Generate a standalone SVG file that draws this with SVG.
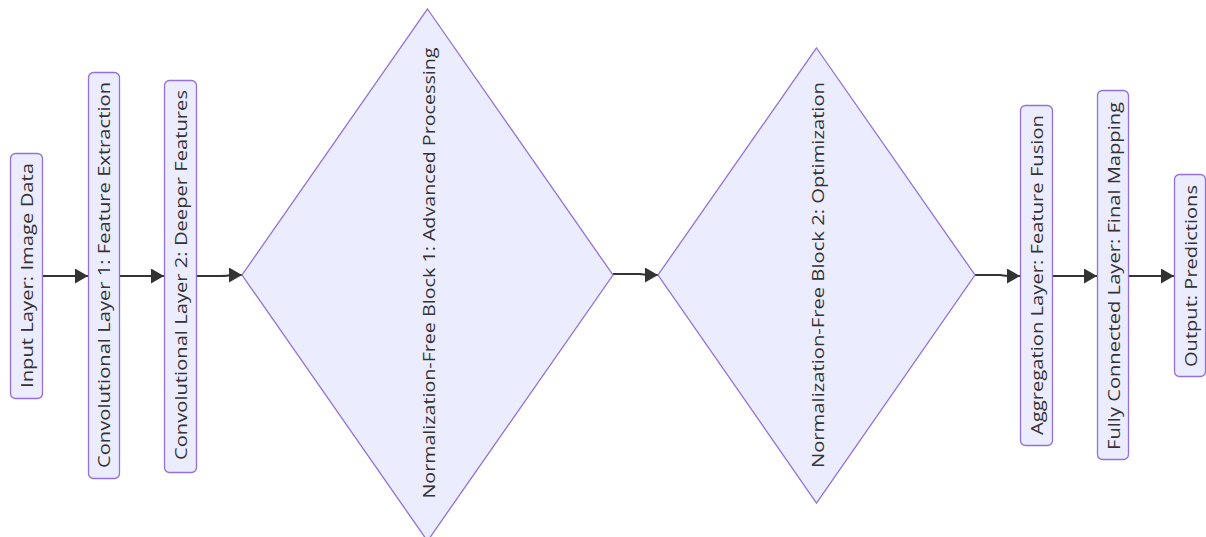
<svg xmlns="http://www.w3.org/2000/svg" width="1206" height="537" viewBox="0 0 1206 537">
  <style>
    .box { fill: #ECECFF; stroke: #9370DB; stroke-width: 1.3; }
    .lbl { fill: #333333; font-family: "Open Sans", "DejaVu Sans", sans-serif; font-size: 16px; text-anchor: middle; dominant-baseline: central; }
    .edge { fill: none; stroke: #333333; stroke-width: 2; marker-end: url(#arrow); }
  </style>
  <defs>
    <marker id="arrow" viewBox="0 0 13 15" refX="13" refY="7.5" markerUnits="userSpaceOnUse" markerWidth="13" markerHeight="15" orient="auto">
      <path d="M 0 0 L 13 7.5 L 0 15 z" fill="#333333"/>
    </marker>
  </defs>
  <rect width="1206" height="537" fill="#ffffff"/>

  <g id="connectors">
    <path class="edge" d="M 43 276 L 88 276"/>
    <path class="edge" d="M 119 276 L 164 276"/>
    <path class="edge" d="M 197 276 L 220 276 Q 228 276 230 275 L 242 275"/>
    <path class="edge" d="M 613 274 L 640 274 Q 646 275 650 275 L 658 275"/>
    <path class="edge" d="M 975 275 L 1000 275 Q 1006 276 1010 276 L 1020 276"/>
    <path class="edge" d="M 1052 276 L 1097 276"/>
    <path class="edge" d="M 1129 276 L 1174 276"/>
  </g>

  <g id="input">
    <rect class="box" x="10.5" y="153.5" width="32" height="245" rx="5"/>
    <text class="lbl" transform="translate(27 275.5) rotate(-90)" textLength="225" lengthAdjust="spacingAndGlyphs">Input Layer: Image Data</text>
  </g>

  <g id="conv1">
    <rect class="box" x="88.5" y="72.5" width="31" height="406" rx="5"/>
    <text class="lbl" transform="translate(104 275) rotate(-90)" textLength="386" lengthAdjust="spacingAndGlyphs">Convolutional Layer 1: Feature Extraction</text>
  </g>

  <g id="conv2">
    <rect class="box" x="164.5" y="80.5" width="32" height="392" rx="5"/>
    <text class="lbl" transform="translate(181 275) rotate(-90)" textLength="370" lengthAdjust="spacingAndGlyphs">Convolutional Layer 2: Deeper Features</text>
  </g>

  <g id="nfblock1">
    <polygon class="box" points="427.5,9 613,275 427.5,541 242,275"/>
    <text class="lbl" transform="translate(429 273) rotate(-90)" textLength="451" lengthAdjust="spacingAndGlyphs">Normalization-Free Block 1: Advanced Processing</text>
  </g>

  <g id="nfblock2">
    <polygon class="box" points="816.5,48 975,275 816.5,503 658,275"/>
    <text class="lbl" transform="translate(818 275) rotate(-90)" textLength="386" lengthAdjust="spacingAndGlyphs">Normalization-Free Block 2: Optimization</text>
  </g>

  <g id="aggregation">
    <rect class="box" x="1020.5" y="105.5" width="32" height="340" rx="5"/>
    <text class="lbl" transform="translate(1037 275) rotate(-90)" textLength="320" lengthAdjust="spacingAndGlyphs">Aggregation Layer: Feature Fusion</text>
  </g>

  <g id="fullyconnected">
    <rect class="box" x="1097.5" y="90.5" width="31" height="369" rx="5"/>
    <text class="lbl" transform="translate(1114 276) rotate(-90)" textLength="348" lengthAdjust="spacingAndGlyphs">Fully Connected Layer: Final Mapping</text>
  </g>

  <g id="output">
    <rect class="box" x="1174.5" y="174.5" width="31" height="202" rx="5"/>
    <text class="lbl" transform="translate(1191 276) rotate(-90)" textLength="182" lengthAdjust="spacingAndGlyphs">Output: Predictions</text>
  </g>
</svg>
